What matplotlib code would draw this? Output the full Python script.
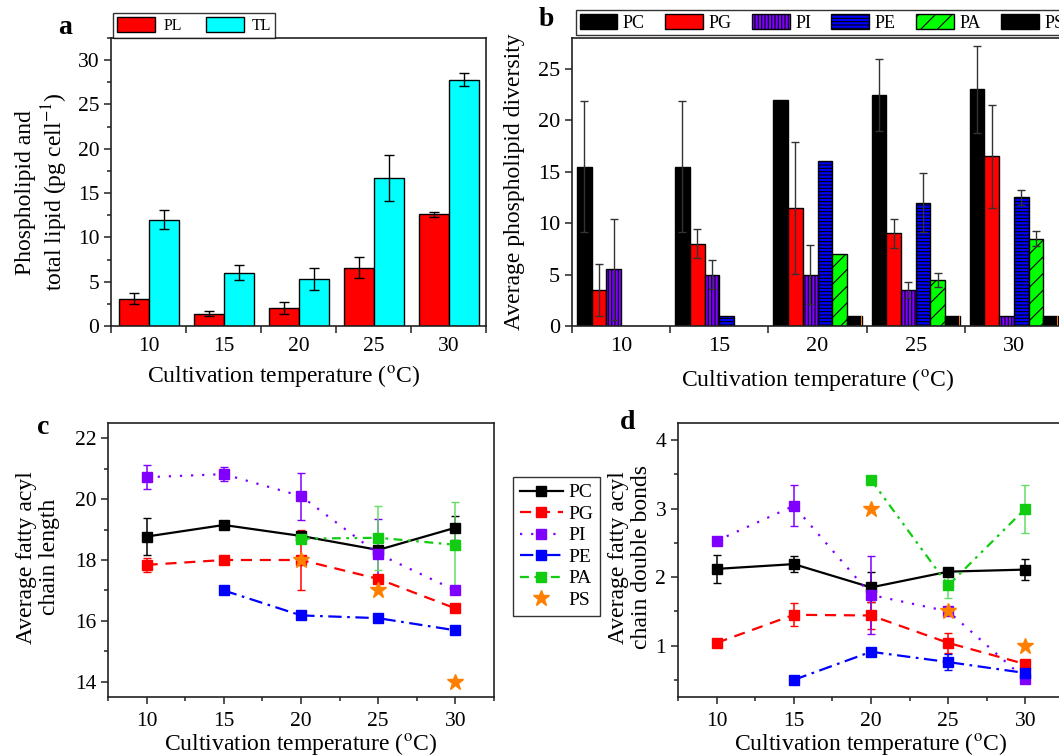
import numpy as np
import matplotlib
matplotlib.use('Agg')
import matplotlib.pyplot as plt
from matplotlib.ticker import MultipleLocator, FixedLocator, NullFormatter

plt.rcParams['font.family'] = ['Liberation Serif', 'DejaVu Serif']
plt.rcParams['mathtext.fontset'] = 'stix'
plt.rcParams['hatch.linewidth'] = 0.8

# ---------------- data ----------------
temps = [10, 15, 20, 25, 30]
temp_labels = ['10', '15', '20', '25', '30']

# panel a: phospholipid (PL) and total lipid (TL), pg cell-1
pl = [3.1, 1.4, 2.0, 6.6, 12.6]
pl_err = [0.65, 0.3, 0.7, 1.17, 0.28]
tl = [12.0, 6.0, 5.35, 16.65, 27.8]
tl_err = [1.1, 0.85, 1.25, 2.6, 0.7]

# panel b: average phospholipid diversity
species = ['PC', 'PG', 'PI', 'PE', 'PA', 'PS']
div_pc = [15.5, 15.5, 22.0, 22.5, 23.0]
div_pc_err = [6.4, 6.4, 0.0, 3.5, 4.27]
div_pg = [3.5, 8.0, 11.5, 9.0, 16.5]
div_pg_err = [2.5, 1.4, 6.4, 1.45, 5.0]
div_pi = [5.5, 5.0, 5.0, 3.5, 1.0]
div_pi_err = [4.95, 1.4, 2.85, 0.75, 0.0]
div_pe = [0.0, 1.0, 16.0, 12.0, 12.5]
div_pe_err = [0.0, 0.0, 0.0, 2.85, 0.7]
div_pa = [0.0, 0.0, 7.0, 4.5, 8.5]
div_pa_err = [0.0, 0.0, 0.0, 0.7, 0.72]
div_ps = [0.0, 0.0, 1.0, 1.0, 1.0]
div_ps_err = [0.0, 0.0, 0.0, 0.0, 0.0]

# panel c: average fatty acyl chain length
nan = np.nan
len_pc = [18.77, 19.15, 18.79, 18.33, 19.06]
len_pc_err = [0.6, 0.0, 0.15, 0.25, 0.4]
len_pg = [17.84, 18.0, 18.0, 17.38, 16.41]
len_pg_err = [0.22, 0.0, 1.0, 0.0, 0.0]
len_pi = [20.72, 20.82, 20.1, 18.2, 17.0]
len_pi_err = [0.39, 0.22, 0.77, 1.15, 0.0]
len_pe = [nan, 17.0, 16.18, 16.09, 15.69]
len_pe_err = [0.0, 0.0, 0.0, 0.0, 0.0]
len_pa = [nan, nan, 18.7, 18.73, 18.5]
len_pa_err = [0.0, 0.0, 0.0, 1.06, 1.4]
len_ps = [nan, nan, 18.0, 17.0, 14.0]

# panel d: average fatty acyl chain double bonds
db_pc = [2.12, 2.19, 1.85, 2.08, 2.11]
db_pc_err = [0.2, 0.12, 0.22, 0.05, 0.15]
db_pg = [1.04, 1.45, 1.44, 1.04, 0.73]
db_pg_err = [0.0, 0.17, 0.19, 0.15, 0.05]
db_pi = [2.53, 3.04, 1.74, 1.5, 0.51]
db_pi_err = [0.0, 0.3, 0.57, 0.0, 0.0]
db_pe = [nan, 0.5, 0.91, 0.76, 0.6]
db_pe_err = [0.0, 0.0, 0.0, 0.12, 0.0]
db_pa = [nan, nan, 3.42, 1.88, 3.0]
db_pa_err = [0.0, 0.0, 0.0, 0.18, 0.35]
db_ps = [nan, nan, 3.0, 1.5, 1.0]

# ---------------- styles ----------------
C_PC, C_PG, C_PI, C_PE, C_PA, C_PS = '#000000', '#ff0000', '#8000ff', '#0000ff', '#00dd00', '#ff8000'
LAB_FS = 17
XLAB = 'Cultivation temperature ($^{\\rm o}$C)'

W, H = 1059, 756
fig = plt.figure(figsize=(W / 100, H / 100), dpi=100)


def box(x0, y0, x1, y1):
    return [x0 / W, 1 - y1 / H, (x1 - x0) / W, (y1 - y0) / H]


def style_axes(ax, fs=15):
    for s in ax.spines.values():
        s.set_linewidth(1.2)
        s.set_color('#222222')
    ax.tick_params(which='both', direction='out', top=False, right=False,
                   labelsize=fs, width=1.1, color='#222222')
    ax.tick_params(which='major', length=5)
    ax.tick_params(which='minor', length=3)


def cat_axis(ax):
    x = np.arange(len(temps))
    ax.set_xlim(-0.5, len(temps) - 0.5)
    ax.xaxis.set_major_locator(FixedLocator(x))
    ax.set_xticklabels(temp_labels)
    ax.xaxis.set_minor_locator(FixedLocator(np.arange(-0.5, len(temps), 1.0)))
    ax.xaxis.set_minor_formatter(NullFormatter())
    ax.tick_params(axis='x', which='major', length=0, pad=8)
    ax.tick_params(axis='x', which='minor', length=5)
    return x


# ---------------- panel a ----------------
axa = fig.add_axes(box(111, 38, 486, 326))
style_axes(axa, 15.5)
x = cat_axis(axa)
bw = 0.4
axa.bar(x - bw / 2, pl, bw, color='#ff0000', edgecolor='black', linewidth=1, label='PL', zorder=2)
axa.bar(x + bw / 2, tl, bw, color='#00ffff', edgecolor='black', linewidth=1, label='TL', zorder=2)
axa.errorbar(x - bw / 2, pl, yerr=pl_err, fmt='none', ecolor='black', elinewidth=1, capsize=3.5, zorder=3)
axa.errorbar(x + bw / 2, tl, yerr=tl_err, fmt='none', ecolor='black', elinewidth=1, capsize=3.5, zorder=3)
axa.set_ylim(0, 32.5)
axa.yaxis.set_major_locator(MultipleLocator(5))
axa.yaxis.set_minor_locator(MultipleLocator(2.5))
axa.set_ylabel('Phospholipid and\ntotal lipid (pg cell$^{-1}$)', fontsize=LAB_FS, linespacing=1.15)
axa.yaxis.set_label_coords(-0.109, 0.465)
axa.set_xlabel(XLAB, fontsize=LAB_FS)
axa.xaxis.set_label_coords(0.46, -0.13)
la = axa.legend(loc='lower left', bbox_to_anchor=(0.005, 1.0), ncol=2, fontsize=11.5, frameon=True,
                fancybox=False, edgecolor='black', borderaxespad=0, handlelength=2.4, handleheight=1.1,
                columnspacing=1.5, handletextpad=0.5, borderpad=0.25)
la.get_frame().set_linewidth(1.0)
fig.text(65 / W, 1 - 27 / H, 'a', fontsize=20, fontweight='bold', ha='center', va='center')

# ---------------- panel b ----------------
axb = fig.add_axes(box(572, 38, 1063, 326))
style_axes(axb, 16)
x = cat_axis(axb)
bw = 0.15
div_vals = [div_pc, div_pg, div_pi, div_pe, div_pa, div_ps]
div_errs = [div_pc_err, div_pg_err, div_pi_err, div_pe_err, div_pa_err, div_ps_err]
colors_b = [C_PC, C_PG, '#7f00ff', C_PE, '#00ff00', C_PC]
hatches_b = [None, None, '|||||', '-----', '//', None]
for i, (v, e, c, h, lab) in enumerate(zip(div_vals, div_errs, colors_b, hatches_b, species)):
    off = (i - 2.5) * bw
    axb.bar(x + off, v, bw, color=c, edgecolor='black', linewidth=1, hatch=h, label=lab, zorder=2)
    e = np.asarray(e)
    m = e > 0
    if m.any():
        axb.errorbar((x + off)[m], np.asarray(v)[m], yerr=e[m], fmt='none', ecolor='#333333',
                     elinewidth=1, capsize=3, zorder=3)
# orange right edge on PS bars
axb.bar(x + 2.5 * bw + bw / 2 - 0.006, div_ps, 0.012, color=C_PS, linewidth=0, zorder=2)
axb.set_ylim(0, 28)
axb.yaxis.set_major_locator(MultipleLocator(5))
axb.set_ylabel('Average phospholipid diversity', fontsize=LAB_FS)
axb.yaxis.set_label_coords(-0.096, 0.5)
axb.set_xlabel(XLAB, fontsize=LAB_FS)
axb.xaxis.set_label_coords(0.5, -0.143)
lb = axb.legend(loc='lower left', bbox_to_anchor=(0.008, 1.01), ncol=6, fontsize=13, frameon=True,
                fancybox=False, edgecolor='black', borderaxespad=0, handlelength=2.1, handleheight=0.95,
                columnspacing=1.12, handletextpad=0.3, borderpad=0.2)
lb.get_frame().set_linewidth(1.0)
fig.text(546 / W, 1 - 20 / H, 'b', fontsize=20, fontweight='bold', ha='center', va='center')


# ---------------- panels c, d ----------------
def line_panel(ax, series, errs, ps_vals):
    style_axes(ax, 15.5)
    ax.set_xlim(7.5, 32.5)
    ax.xaxis.set_major_locator(MultipleLocator(5))
    ax.xaxis.set_minor_locator(MultipleLocator(2.5))
    ax.tick_params(axis='x', which='major', pad=6)
    specs = [
        ('PC', C_PC, '-', C_PC),
        ('PG', C_PG, (0, (5, 3.5)), C_PG),
        ('PI', C_PI, (0, (1, 4)), C_PI),
        ('PE', C_PE, (0, (6, 2.5, 1.2, 2.5)), C_PE),
        ('PA', '#11cc11', (0, (4, 2.5, 1.2, 2.5, 1.2, 2.5)), '#66dd66'),
    ]
    handles = []
    for (lab, c, ls, ec), v, e in zip(specs, series, errs):
        v = np.asarray(v, dtype=float)
        e = np.asarray(e, dtype=float)
        m = e > 0
        if m.any():
            ax.errorbar(np.asarray(temps)[m], v[m], yerr=e[m], fmt='none', ecolor=ec,
                        elinewidth=1.1, capsize=3, zorder=3)
        h, = ax.plot(temps, v, color=c, linestyle=ls, linewidth=1.6, marker='s', markersize=7.5,
                     markerfacecolor=c, markeredgecolor=c, label=lab, zorder=4)
        handles.append(h)
    h, = ax.plot(temps, ps_vals, linestyle='none', marker='*', markersize=12, color=C_PS,
                 markeredgecolor=C_PS, label='PS', zorder=5)
    handles.append(h)
    ax.set_xlabel(XLAB, fontsize=LAB_FS, labelpad=0)
    return handles


axc = fig.add_axes(box(108, 423, 494, 697))
hc = line_panel(axc, [len_pc, len_pg, len_pi, len_pe, len_pa],
                [len_pc_err, len_pg_err, len_pi_err, len_pe_err, len_pa_err], len_ps)
axc.set_ylim(13.5, 22.5)
axc.yaxis.set_major_locator(MultipleLocator(2))
axc.yaxis.set_minor_locator(MultipleLocator(1))
axc.set_ylabel('Average fatty acyl\nchain length', fontsize=LAB_FS, linespacing=1.15)
axc.yaxis.set_label_coords(-0.124, 0.51)
fig.text(43 / W, 1 - 428 / H, 'c', fontsize=20, fontweight='bold', ha='center', va='center')

axd = fig.add_axes(box(678, 423, 1064, 697))
line_panel(axd, [db_pc, db_pg, db_pi, db_pe, db_pa],
           [db_pc_err, db_pg_err, db_pi_err, db_pe_err, db_pa_err], db_ps)
axd.set_ylim(0.25, 4.25)
axd.yaxis.set_major_locator(MultipleLocator(1))
axd.yaxis.set_minor_locator(MultipleLocator(0.5))
axd.set_ylabel('Average fatty acyl\nchain double bonds', fontsize=LAB_FS, linespacing=1.15)
axd.yaxis.set_label_coords(-0.067, 0.51)
fig.text(628 / W, 1 - 422 / H, 'd', fontsize=20, fontweight='bold', ha='center', va='center')

lc = fig.legend(handles=hc, loc='upper left', bbox_to_anchor=(513 / W, 1 - 477 / H), fontsize=14,
                frameon=True, fancybox=False, edgecolor='black', handlelength=2.2,
                handletextpad=0.3, labelspacing=0.2, borderpad=0.35, borderaxespad=0)
lc.get_frame().set_linewidth(1.0)

fig.savefig('out.png', dpi=100)
